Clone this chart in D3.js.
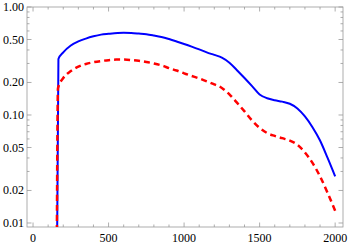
<!DOCTYPE html>
<html><head><meta charset="utf-8">
<script src="https://cdn.jsdelivr.net/npm/d3@7"></script>
<style>body{margin:0;background:#fff}svg{display:block}</style>
</head><body>
<script>
const blueX = [155,168,200,250,300,350,400,450,500,560,600,650,700,750,800,850,900,950,1000,1050,1100,1150,1200,1250,1300,1350,1400,1450,1500,1550,1600,1650,1700,1750,1800,1850,1900,1950,2000];
const blueY = [0.001,0.33,0.38,0.44,0.48,0.51,0.535,0.555,0.565,0.575,0.578,0.575,0.568,0.56,0.545,0.528,0.505,0.48,0.455,0.43,0.405,0.38,0.36,0.34,0.305,0.26,0.22,0.185,0.155,0.143,0.137,0.133,0.127,0.115,0.097,0.077,0.058,0.04,0.027];
const redX = [155,165,200,250,300,350,400,450,500,550,600,650,700,750,800,850,900,950,1000,1050,1100,1150,1200,1250,1300,1350,1400,1450,1500,1550,1600,1650,1700,1750,1800,1850,1900,1950,2000];
const redY = [0.001,0.177,0.22,0.255,0.28,0.297,0.308,0.316,0.322,0.326,0.326,0.323,0.318,0.31,0.3,0.288,0.272,0.258,0.243,0.23,0.218,0.205,0.192,0.178,0.155,0.13,0.108,0.089,0.076,0.068,0.064,0.061,0.058,0.053,0.045,0.036,0.027,0.019,0.013];
const xTicks = [0,500,1000,1500,2000];
const yTicks = [0.01,0.02,0.05,0.10,0.20,0.50,1.00];
const yTickLabels = ["0.01","0.02","0.05","0.10","0.20","0.50","1.00"];

const W=349,H=244;
const L=27,R=343,T=7,B=227;
const x = d3.scaleLinear().domain([-40,2052]).range([L,R]);
const y = d3.scaleLog().domain([0.00918,1.0]).range([B,T]);

const svg = d3.select("body").append("svg").attr("width",W).attr("height",H);
svg.append("defs").append("clipPath").attr("id","clip").append("rect")
  .attr("x",L).attr("y",T).attr("width",R-L).attr("height",B-T);

const frameColor="#999";
const g = svg.append("g");
const xMinor = d3.range(0,2001,100).filter(v=>!xTicks.includes(v));
const yMinor = [];
[0.01,0.1].forEach(dec=>{for(let k=1;k<10;k++){const v=+(dec*k).toFixed(4); if(!yTicks.some(t=>Math.abs(t-v)<1e-9)) yMinor.push(v);}});
const tickG = g.append("g").attr("stroke",frameColor).attr("stroke-width",0.8);
xTicks.forEach(v=>{const px=x(v);
  tickG.append("line").attr("x1",px).attr("x2",px).attr("y1",B).attr("y2",B-4.5);
  tickG.append("line").attr("x1",px).attr("x2",px).attr("y1",T).attr("y2",T+4.5);});
xMinor.forEach(v=>{const px=x(v);
  tickG.append("line").attr("x1",px).attr("x2",px).attr("y1",B).attr("y2",B-2.5);
  tickG.append("line").attr("x1",px).attr("x2",px).attr("y1",T).attr("y2",T+2.5);});
yTicks.forEach(v=>{const py=y(v);
  tickG.append("line").attr("x1",L).attr("x2",L+4.5).attr("y1",py).attr("y2",py);
  tickG.append("line").attr("x1",R).attr("x2",R-4.5).attr("y1",py).attr("y2",py);});
yMinor.filter(v=>v>=y.domain()[0]).forEach(v=>{const py=y(v);
  tickG.append("line").attr("x1",L).attr("x2",L+2.5).attr("y1",py).attr("y2",py);
  tickG.append("line").attr("x1",R).attr("x2",R-2.5).attr("y1",py).attr("y2",py);});

g.append("rect").attr("x",L).attr("y",T).attr("width",R-L).attr("height",B-T)
  .attr("fill","none").attr("stroke",frameColor).attr("stroke-width",0.8);

const font="'Liberation Serif','Times New Roman',serif";
xTicks.forEach(v=>g.append("text").attr("x",x(v)).attr("y",B+15).attr("text-anchor","middle")
  .attr("font-family",font).attr("font-size",12).attr("fill","#000").text(v));
yTicks.forEach((v,i)=>g.append("text").attr("x",L-3).attr("y",y(v)+4).attr("text-anchor","end")
  .attr("font-family",font).attr("font-size",12).attr("fill","#000").text(yTickLabels[i]));

const line = d3.line().x(d=>x(d[0])).y(d=>y(d[1])).curve(d3.curveMonotoneX);
const plot = svg.append("g").attr("clip-path","url(#clip)");
plot.append("path").datum(blueX.map((v,i)=>[v,blueY[i]])).attr("d",line)
  .attr("fill","none").attr("stroke","#0000ff").attr("stroke-width",2);
plot.append("path").datum(redX.map((v,i)=>[v,redY[i]])).attr("d",line)
  .attr("fill","none").attr("stroke","#ff0000").attr("stroke-width",2.5).attr("stroke-dasharray","6,4");
</script>
</body></html>
